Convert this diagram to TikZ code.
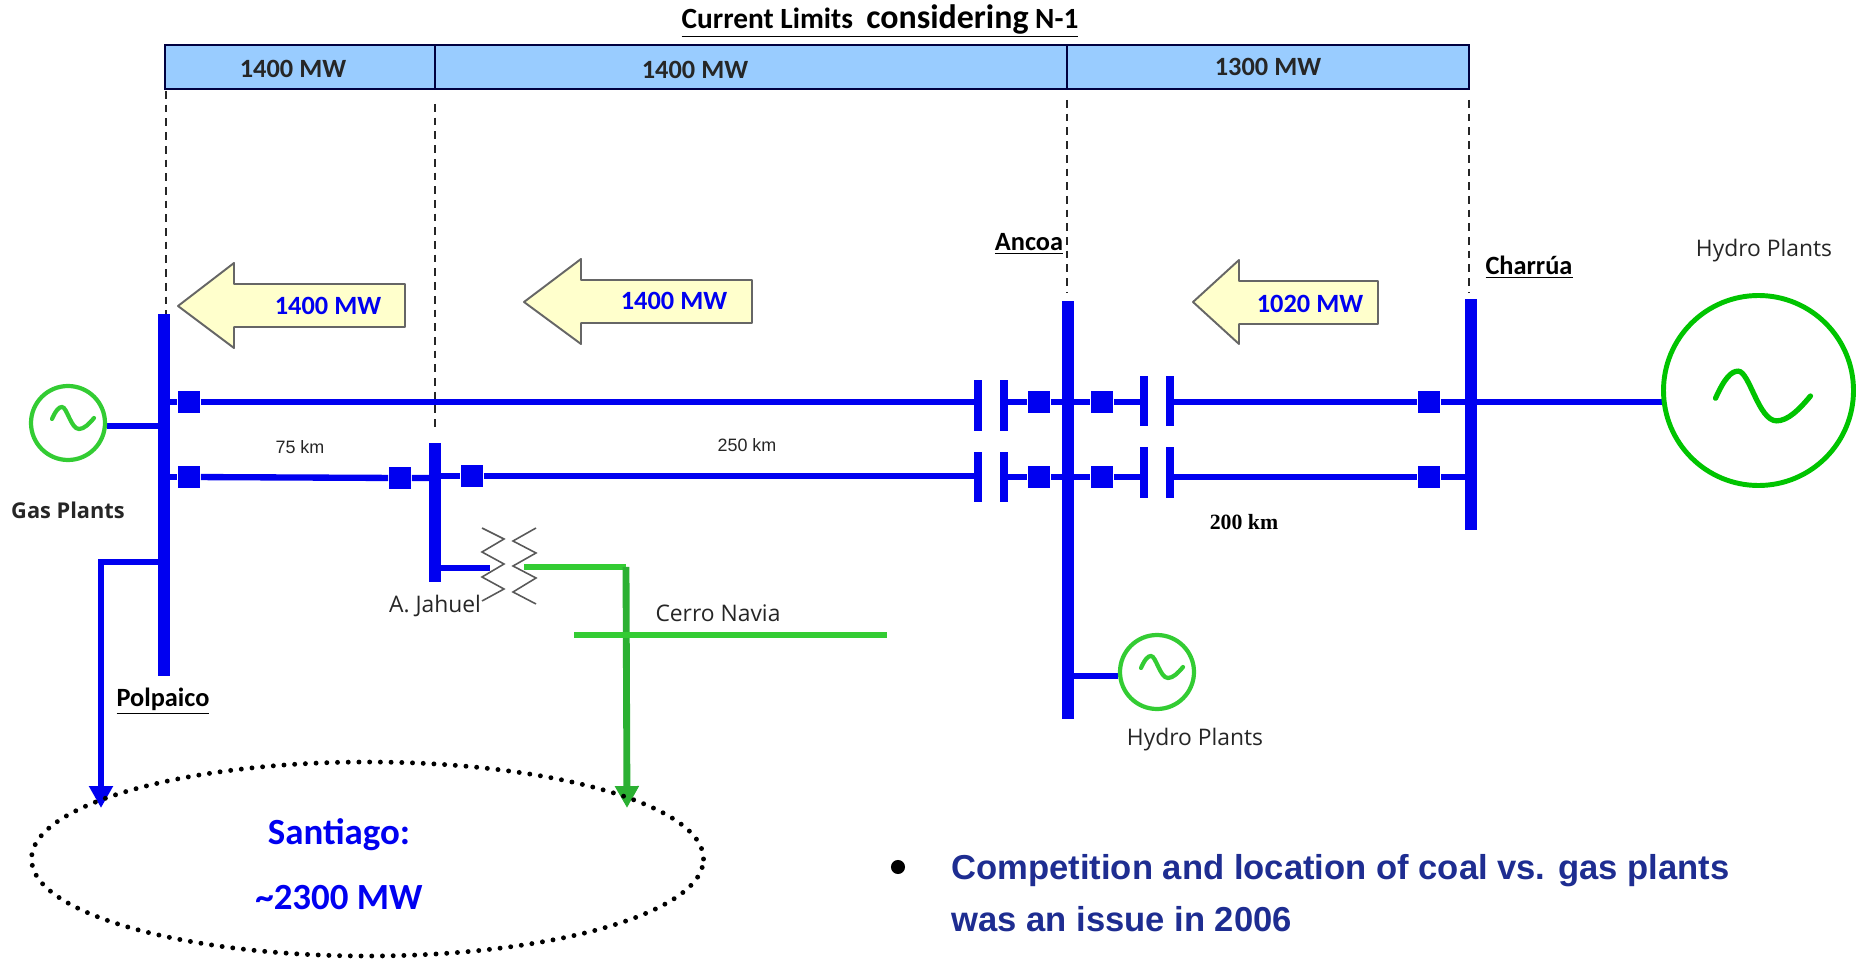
\documentclass[tikz,border=0pt]{standalone}
\usepackage{fontspec}
\setmainfont{Carlito}
\setsansfont{Liberation Sans}
\newfontfamily\labelfont{Open Sans}
\newfontfamily\timesfont{Liberation Serif}
\usetikzlibrary{positioning, arrows.meta, shapes.geometric}

\definecolor{lineblue}{RGB}{0,0,240}
\definecolor{limitblue}{RGB}{153,204,255}
\definecolor{flowyellow}{RGB}{255,255,204}
\definecolor{gengreen}{RGB}{51,204,51}
\definecolor{biggreen}{RGB}{0,196,0}
\definecolor{loadgreen}{RGB}{43,176,50}
\definecolor{bullettext}{RGB}{30,45,145}

\begin{document}
\begin{tikzpicture}[
		x=0.02cm, y=-0.02cm,
		>={Triangle[width=13pt,length=12.5pt]},
		busbar/.style={fill=lineblue, inner sep=0pt, minimum width=6.8pt},
		breaker/.style={fill=lineblue, inner sep=0pt, minimum size=13pt},
		plate/.style={fill=lineblue, inner sep=0pt, minimum width=4.6pt, minimum height=29pt},
		feeder/.style={draw=lineblue, line width=3.6pt},
		generator/.style={circle, inner sep=0pt, fill=white},
		limit/.style={draw=black!75!blue, fill=limitblue, line width=0.8pt},
		flow/.style={draw=black!60, fill=flowyellow, line width=1.1pt, line join=round},
		coil/.style={draw=black!65, line width=0.9pt},
		drop/.style={draw=black!85, line width=1pt, dash pattern=on 4.4pt off 3.4pt},
		station/.style={font=\fontsize{15}{18}\selectfont\bfseries},
		plainlabel/.style={font=\labelfont\fontsize{13}{15}\selectfont, text=black!85},
		flowlabel/.style={font=\fontsize{15}{18}\selectfont\bfseries, text=lineblue},
		limitlabel/.style={font=\fontsize{15}{18}\selectfont\bfseries, text=black!85},
		tilde/.pic={
			\draw[line width=\pgfkeysvalueof{/tikz/tildewidth}, draw=\pgfkeysvalueof{/tikz/tildecolor}, line cap=round]
				(-21,1) .. controls (-17,-8) and (-14,-11) .. (-11,-11)
				.. controls (-6,-11) and (-2,11) .. (6,11)
				.. controls (11,11) and (16,6) .. (21,0);
		},
		tildewidth/.initial=2.4pt,
		tildecolor/.initial=gengreen
		]
		
		\useasboundingbox (0,0) rectangle (1860,959);
		
		% --- CURRENT LIMITS ---
		\node[font=\fontsize{16.7}{18}\selectfont\bfseries] (title) at (880,21)
			{\underline{Current Limits\ \ {\fontsize{19.3}{18}\selectfont considering} N-1}};
		\filldraw[limit] (165,45) rectangle (1469,89);
		\coordinate (lim1) at (435,45);
		\coordinate (lim2) at (1067,45);
		\draw[limit] (lim1) -- (435,89);
		\draw[limit] (lim2) -- (1067,89);
		\node[limitlabel] (limA) at (293,69) {1400 MW};
		\node[limitlabel] (limB) at (695,70) {1400 MW};
		\node[limitlabel] (limC) at (1268,67) {1300 MW};
		
		% --- BUSBARS ---
		\node[busbar, minimum height=362*0.02cm] (polpaico) at (164,495) {};
		\node[busbar, minimum height=139*0.02cm] (jahuel) at (435,512.5) {};
		\node[busbar, minimum height=418*0.02cm] (ancoa) at (1068,510) {};
		\node[busbar, minimum height=231*0.02cm] (charrua) at (1471,414.5) {};
		
		% Dashed drops from the limits
		\coordinate (drop1) at (166,91);
		\coordinate (drop2) at (435,104);
		\coordinate (drop3) at (1067,100);
		\coordinate (drop4) at (1469,100);
		\draw[drop] (drop1) -- (polpaico.north -| drop1);
		\draw[drop] (drop2) -- (435,432);
		\draw[drop] (drop3) -- (1067,293);
		\draw[drop] (drop4) -- (1469,293);
		
		% --- LINE ROWS ---
		\foreach \r/\y/\yl/\yr in {1/402/405.5/401, 2/477/477/472.5} {
			\node[breaker] (brkP\r) at (189,\y) {};
			\node[breaker] (brkAw\r) at (1039,\y) {};
			\node[breaker] (brkAe\r) at (1102,\y) {};
			\node[breaker] (brkC\r) at (1429,\y) {};
			\node[plate] (capWa\r) at (978,\yl) {};
			\node[plate] (capWb\r) at (1004,\yl) {};
			\node[plate] (capEa\r) at (1144,\yr) {};
			\node[plate] (capEb\r) at (1170,\yr) {};
			\draw[feeder] (brkP\r -| polpaico) -- (brkP\r);
			\draw[feeder] (capWb\r |- brkP\r) -- (brkAw\r) -- (brkAe\r) -- (capEa\r |- brkP\r);
			\draw[feeder] (capEb\r |- brkC\r) -- (brkC\r) -- (brkC\r -| charrua);
		}
		\node[breaker] (brkJw) at (400,478) {};
		\node[breaker] (brkJe) at (472,476) {};
		\draw[feeder] (brkP1) -- (capWa1 |- brkP1);
		\draw[feeder] (brkP2) -- (brkJw) -- (brkJw -| jahuel);
		\draw[feeder] (brkJe -| jahuel) -- (brkJe) -- (capWa2 |- brkJe);
		
		% --- GENERATORS ---
		\coordinate (gasTap) at (107,426);
		\coordinate (smallTap) at (1118,676);
		\coordinate (bigTap) at (1662,402);
		\draw[feeder] (gasTap) -- (polpaico.west |- gasTap);
		\draw[feeder] (ancoa |- smallTap) -- (smallTap);
		\draw[feeder] (charrua |- bigTap) -- (bigTap);
		\node[generator, draw=gengreen, line width=2.4pt, minimum size=74*0.02cm] (gasgen) at (68,423) {};
		\pic[shift={(5,-5)}] at (gasgen) {tilde};
		\node[generator, draw=gengreen, line width=2.4pt, minimum size=74*0.02cm] (hydrosmall) at (1157,672) {};
		\pic[shift={(5,-5)}] at (hydrosmall) {tilde};
		\node[generator, draw=biggreen, line width=2.8pt, minimum size=190*0.02cm] (hydrobig) at (1758.5,390.5) {};
		\pic[shift={(4.5,5.5)}, scale=2.26, tildewidth=3pt, tildecolor=biggreen] at (hydrobig) {tilde};
		
		% --- FLOW ARROWS ---
		\foreach \tip/\neck/\tail/\t/\hdt/\bdt/\bdb/\hdb in {
				178/234/405/306/263/284/327/348,
				524/581/752/302/259/280/323/344,
				1193/1239/1378/302/260/281/324/344} {
			\filldraw[flow] (\tip,\t) -- (\neck,\hdt) -- (\neck,\bdt) -- (\tail,\bdt)
				-- (\tail,\bdb) -- (\neck,\bdb) -- (\neck,\hdb) -- cycle;
		}
		\node[flowlabel] (flowA) at (328,306) {1400 MW};
		\node[flowlabel] (flowB) at (674,301) {1400 MW};
		\node[flowlabel] (flowC) at (1310,304) {1020 MW};
		
		% --- TRANSFORMER AND CERRO NAVIA ---
		\coordinate (tapW) at (490,568);
		\coordinate (tapE) at (524,567);
		\coordinate (tapC) at (626,567);
		\coordinate (navW) at (574,635);
		\coordinate (navE) at (887,635);
		\coordinate (loadG) at (627,808);
		\coordinate (loadB) at (101,808);
		\coordinate (loadC) at (101,562);
		\draw[coil] (482,528) -- (504,539) -- (482,552) -- (504,564) -- (482,577) -- (504,589) -- (482,601);
		\draw[coil] (536,528) -- (513,541) -- (536,553) -- (513,566) -- (536,578) -- (513,592) -- (536,604);
		\draw[feeder] (jahuel |- tapW) -- (tapW);
		\draw[draw=gengreen, line width=3pt] (tapE) -- (tapC);
		\draw[->, draw=loadgreen, line width=3.9pt] (tapC) -- (loadG);
		\draw[draw=gengreen, line width=3.9pt] (navW) -- (navE);
		
		% --- LOAD ---
		\draw[->, feeder, line join=miter] (polpaico |- loadC) -- (loadC) -- (loadB);
		\node[draw=black, ellipse, line width=2.8pt, line cap=round, dash pattern=on 0pt off 6.1pt,
			minimum width=672*0.02cm, minimum height=194*0.02cm, inner sep=0pt] (santiago) at (367.5,859) {};
		\node[font=\fontsize{21}{24}\selectfont\bfseries, text=lineblue] (cityname) at (339,835) {Santiago:};
		\node[font=\fontsize{21}{24}\selectfont\bfseries, text=lineblue] (cityload) at (339,898) {\textasciitilde 2300 MW};
		
		% --- STATION LABELS ---
		\node[station] (lblPol) at (163,701) {\underline{Polpaico}};
		\node[station] (lblAnc) at (1029,244) {\underline{Ancoa}};
		\node[station] (lblCha) at (1529,267) {\underline{Charrúa}};
		\node[plainlabel] (lblJah) at (435,606) {A. Jahuel};
		\node[plainlabel] (lblNav) at (718,613) {Cerro Navia};
		\node[plainlabel] (lblHydA) at (1764,251) {Hydro Plants};
		\node[plainlabel] (lblHydB) at (1195,740) {Hydro Plants};
		\node[plainlabel, font=\labelfont\fontsize{12.4}{15}\selectfont\bfseries] (lblGas) at (68,510) {Gas Plants};
		
		% Distances
		\node[font=\sffamily\fontsize{10.2}{12}\selectfont, text=black!85] (km75) at (300,447) {75 km};
		\node[font=\sffamily\fontsize{10.2}{12}\selectfont, text=black!85] (km250) at (747,445) {250 km};
		\node[font=\timesfont\fontsize{12.4}{14}\selectfont\bfseries] (km200) at (1244,522) {200 km};
		
		% --- BULLET ---
		\node[circle, fill=black, inner sep=0pt, minimum size=8pt] (bullet) at (898,867) {};
		\node[anchor=west, align=left, inner sep=0pt, font=\sffamily\fontsize{19.7}{29.5}\selectfont\bfseries, text=bullettext] (note) at (951,893)
			{Competition and location of coal vs. gas plants\\was an issue in 2006};
		
	\end{tikzpicture}
\end{document}
